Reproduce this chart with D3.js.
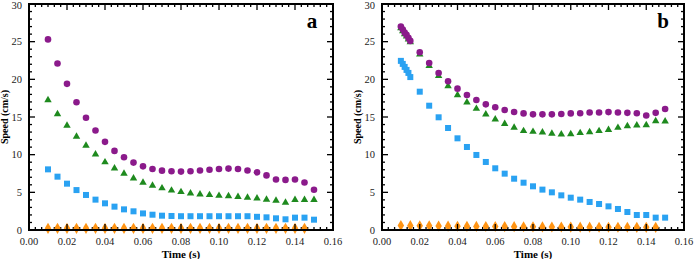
<!DOCTYPE html>
<html>
<head>
<meta charset="utf-8">
<script src="https://cdn.jsdelivr.net/npm/d3@7"></script>
<style>
  body { margin: 0; background: #fff; }
  svg { display: block; }
</style>
</head>
<body>
<div id="chart"></div>
<script>
// time points (s)
var timeA = [0.010, 0.015, 0.020, 0.025, 0.030, 0.035, 0.040, 0.045, 0.050, 0.055, 0.060, 0.065, 0.070, 0.075, 0.080,
             0.085, 0.090, 0.095, 0.100, 0.105, 0.110, 0.115, 0.120, 0.125, 0.130, 0.135, 0.140, 0.145, 0.150];
var timeB = [0.010, 0.011, 0.012, 0.013, 0.014, 0.015, 0.020, 0.025, 0.030, 0.035, 0.040, 0.045, 0.050, 0.055, 0.060,
             0.065, 0.070, 0.075, 0.080, 0.085, 0.090, 0.095, 0.100, 0.105, 0.110, 0.115, 0.120, 0.125, 0.130,
             0.135, 0.140, 0.145, 0.150];
var timeOrange = [0.010, 0.015, 0.020, 0.025, 0.030, 0.035, 0.040, 0.045, 0.050, 0.055, 0.060, 0.065, 0.070, 0.075,
                  0.080, 0.085, 0.090, 0.095, 0.100, 0.105, 0.110, 0.115, 0.120, 0.125, 0.130, 0.135, 0.140, 0.145];

// panel a speeds (cm/s)
var purpleA = [25.3, 22.1, 19.4, 16.95, 14.9, 13.2, 11.7, 10.5, 9.65, 8.95, 8.45, 8.1, 7.88, 7.79, 7.75,
               7.8, 7.9, 8.0, 8.1, 8.15, 8.1, 7.9, 7.65, 7.25, 6.7, 6.65, 6.7, 6.3, 5.35];
var greenA = [17.25, 15.4, 13.85, 12.4, 11.2, 10.05, 9.0, 8.2, 7.5, 6.85, 6.3, 5.9, 5.55, 5.25, 5.05,
              4.87, 4.73, 4.65, 4.55, 4.5, 4.4, 4.3, 4.2, 4.05, 3.9, 3.65, 4.0, 4.0, 4.0];
var blueA = [8.05, 7.08, 6.15, 5.3, 4.65, 4.03, 3.54, 3.1, 2.74, 2.48, 2.2, 2.03, 1.9, 1.86, 1.83,
             1.83, 1.83, 1.83, 1.83, 1.83, 1.83, 1.83, 1.75, 1.68, 1.55, 1.42, 1.64, 1.64, 1.37];
var orangeA = [0.22, 0.22, 0.22, 0.22, 0.22, 0.22, 0.22, 0.22, 0.22, 0.22, 0.22, 0.22, 0.22, 0.22,
               0.22, 0.22, 0.22, 0.22, 0.22, 0.22, 0.22, 0.22, 0.22, 0.22, 0.22, 0.22, 0.22, 0.22];

// panel b speeds (cm/s)
var purpleB = [27.0, 26.6, 26.2, 25.9, 25.5, 25.1, 23.6, 22.17, 20.84, 19.74, 18.76, 17.92, 17.26, 16.68, 16.29,
               15.93, 15.66, 15.48, 15.35, 15.35, 15.35, 15.4, 15.48, 15.5, 15.6, 15.6, 15.65, 15.6, 15.55,
               15.5, 15.2, 15.55, 16.06];
var greenB = [26.8, 26.4, 26.0, 25.7, 25.3, 24.95, 23.3, 21.8, 20.45, 19.1, 17.9, 16.95, 16.1, 15.35, 14.7,
              14.1, 13.6, 13.15, 13.05, 12.96, 12.8, 12.7, 12.74, 12.88, 13.0, 13.15, 13.3, 13.58, 13.8,
              13.9, 13.94, 14.47, 14.43];
var blueB = [22.45, 22.05, 21.65, 21.25, 20.85, 20.3, 18.36, 16.5, 14.96, 13.54, 12.17, 11.02, 9.96, 9.03, 8.19,
             7.48, 6.81, 6.28, 5.8, 5.36, 5.0, 4.6, 4.29, 4.03, 3.72, 3.45, 3.14, 2.79, 2.39,
             1.99, 1.99, 1.64, 1.64];
var orangeB = [0.6, 0.58, 0.56, 0.55, 0.53, 0.52, 0.5, 0.49, 0.48, 0.47, 0.46, 0.45, 0.44, 0.43,
               0.42, 0.41, 0.4, 0.4, 0.39, 0.38, 0.38, 0.37, 0.37, 0.36, 0.36, 0.35, 0.35, 0.35];

// axes
var xTicks = [0.00, 0.02, 0.04, 0.06, 0.08, 0.10, 0.12, 0.14, 0.16];
var yTicks = [0, 5, 10, 15, 20, 25, 30];

var width = 696, height = 259;
var colours = { purple: "#8b1a8b", green: "#1e8a1e", blue: "#2aa2f2", orange: "#ff9414" };
var serif = "'Liberation Serif', 'Times New Roman', serif";

var svg = d3.select("#chart").append("svg")
    .attr("width", width)
    .attr("height", height);

// one panel = one frame with its own scales
function drawPanel(opts) {
    var x = d3.scaleLinear([0, 0.16], [opts.left, opts.right]);
    var y = d3.scaleLinear([0, 30], [opts.bottom, opts.top]);
    var g = svg.append("g");

    // minor ticks: 5 between x majors, 4 between y majors
    var xMinor = [];
    for (var i = 0; i < xTicks.length - 1; i++)
        for (var k = 1; k < 6; k++) xMinor.push(xTicks[i] + (xTicks[i + 1] - xTicks[i]) * k / 6);
    var yMinor = [];
    for (var j = 0; j < yTicks.length - 1; j++)
        for (var m = 1; m < 5; m++) yMinor.push(yTicks[j] + (yTicks[j + 1] - yTicks[j]) * m / 5);

    function tickLines(parent, vals, len, horiz) {
        var t = parent.append("g").attr("stroke", "#000").attr("stroke-width", 1.3);
        vals.forEach(function (v) {
            if (horiz) {
                t.append("line").attr("x1", x(v)).attr("x2", x(v)).attr("y1", opts.bottom).attr("y2", opts.bottom - len);
                t.append("line").attr("x1", x(v)).attr("x2", x(v)).attr("y1", opts.top).attr("y2", opts.top + len);
            } else {
                t.append("line").attr("y1", y(v)).attr("y2", y(v)).attr("x1", opts.left).attr("x2", opts.left + len);
                t.append("line").attr("y1", y(v)).attr("y2", y(v)).attr("x1", opts.right).attr("x2", opts.right - len);
            }
        });
    }
    tickLines(g, xMinor, 3, true);
    tickLines(g, yMinor, 3, false);
    tickLines(g, yTicks, 6, false);

    // markers
    var marks = g.append("g");
    marks.selectAll("path.or").data(opts.orange).join("path")
        .attr("class", "or")
        .attr("fill", colours.orange)
        .attr("d", d3.symbol(d3.symbolDiamond, 36))
        .attr("transform", (d, i) => `translate(${x(timeOrange[i])},${y(d)})`);
    marks.selectAll("rect").data(opts.blue).join("rect")
        .attr("fill", colours.blue)
        .attr("x", (d, i) => x(opts.time[i]) - 3)
        .attr("y", d => y(d) - 3)
        .attr("width", 6).attr("height", 6);
    marks.selectAll("path.gr").data(opts.green).join("path")
        .attr("class", "gr")
        .attr("fill", colours.green)
        .attr("d", d3.symbol(d3.symbolTriangle, 24))
        .attr("transform", (d, i) => `translate(${x(opts.time[i])},${y(d)})`);
    marks.selectAll("circle").data(opts.purple).join("circle")
        .attr("fill", colours.purple)
        .attr("cx", (d, i) => x(opts.time[i]))
        .attr("cy", d => y(d))
        .attr("r", 3.3);

    // major x ticks go over the orange markers
    tickLines(g, xTicks, 6, true);

    // frame
    g.append("rect")
        .attr("x", opts.left).attr("y", opts.top)
        .attr("width", opts.right - opts.left).attr("height", opts.bottom - opts.top)
        .attr("fill", "none").attr("stroke", "#000").attr("stroke-width", 2);

    // tick labels
    var lab = g.append("g").attr("font-family", serif).attr("font-size", 10.5).attr("fill", "#222");
    lab.selectAll("text.xt").data(xTicks).join("text")
        .attr("class", "xt")
        .attr("x", d => x(d)).attr("y", opts.bottom + 15)
        .attr("text-anchor", "middle")
        .text(d => d.toFixed(2));
    lab.selectAll("text.yt").data(yTicks).join("text")
        .attr("class", "yt")
        .attr("x", opts.left - 7).attr("y", d => Math.max(y(d) + 3.5, 9))
        .attr("text-anchor", "end")
        .text(d => d);

    // axis titles
    g.append("text")
        .attr("font-family", serif)
        .attr("font-size", 11).attr("font-weight", "bold")
        .attr("text-anchor", "middle")
        .attr("x", (opts.left + opts.right) / 2).attr("y", opts.bottom + 28)
        .text("Time (s)");
    g.append("text")
        .attr("font-family", serif)
        .attr("font-size", 10).attr("font-weight", "bold")
        .attr("text-anchor", "middle")
        .attr("transform", `translate(${opts.left - 21},${(opts.top + opts.bottom) / 2}) rotate(-90)`)
        .text("Speed (cm/s)");

    // panel letter
    g.append("text")
        .attr("font-family", serif)
        .attr("font-size", 21).attr("font-weight", "bold")
        .attr("text-anchor", "middle")
        .attr("x", opts.right - 21).attr("y", opts.top + 24)
        .text(opts.letter);
}

drawPanel({ left: 29, right: 333, top: 4, bottom: 230, letter: "a",
    time: timeA, purple: purpleA, green: greenA, blue: blueA, orange: orangeA });
drawPanel({ left: 382, right: 684, top: 4, bottom: 230, letter: "b",
    time: timeB, purple: purpleB, green: greenB, blue: blueB, orange: orangeB });
</script>
</body>
</html>
